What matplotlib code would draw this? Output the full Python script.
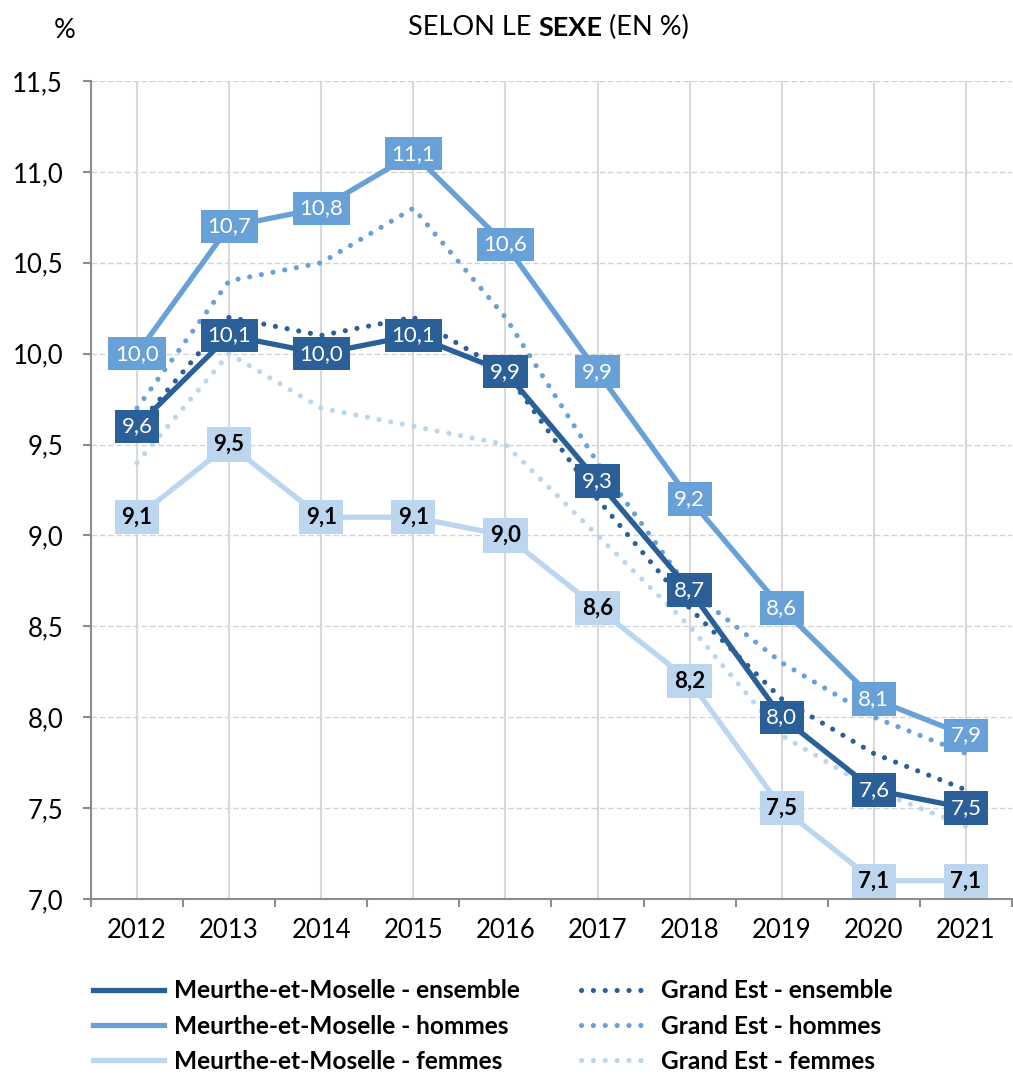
import matplotlib
matplotlib.use("Agg")
from matplotlib import pyplot as plt

annees = ['2012', '2013', '2014', '2015', '2016', '2017', '2018', '2019', '2020', '2021']

mm_ensemble = [9.6, 10.1, 10.0, 10.1, 9.9, 9.3, 8.7, 8.0, 7.6, 7.5]
mm_hommes = [10.0, 10.7, 10.8, 11.1, 10.6, 9.9, 9.2, 8.6, 8.1, 7.9]
mm_femmes = [9.1, 9.5, 9.1, 9.1, 9.0, 8.6, 8.2, 7.5, 7.1, 7.1]

ge_ensemble = [9.6, 10.2, 10.1, 10.2, 9.9, 9.2, 8.6, 8.1, 7.8, 7.6]
ge_hommes = [9.7, 10.4, 10.5, 10.8, 10.2, 9.4, 8.7, 8.3, 8.0, 7.8]
ge_femmes = [9.4, 10.0, 9.7, 9.6, 9.5, 9.0, 8.5, 7.9, 7.6, 7.4]

c_fonce = '#2b5f97'
c_moyen = '#68a1d7'
c_clair = '#bcd6ef'

plt.rcParams['font.family'] = ['Lato', 'DejaVu Sans']

fig = plt.figure(figsize=(10.13, 10.74), dpi=100)
ax = fig.add_axes([0.0898, 0.163, 0.9092, 0.7616])

x = list(range(len(annees)))

# lignes Grand Est en pointillés
pointille = dict(linestyle=(0, (0.01, 2.3)), linewidth=3.7, dash_capstyle='round')
l_ge_ens, = ax.plot(x, ge_ensemble, color=c_fonce, zorder=4, **pointille)
l_ge_hom, = ax.plot(x, ge_hommes, color=c_moyen, zorder=3, **pointille)
l_ge_fem, = ax.plot(x, ge_femmes, color=c_clair, zorder=2, **pointille)

# lignes Meurthe-et-Moselle
l_mm_ens, = ax.plot(x, mm_ensemble, color=c_fonce, linewidth=3.8, zorder=3.5)
l_mm_hom, = ax.plot(x, mm_hommes, color=c_moyen, linewidth=3.8, zorder=3.2)
l_mm_fem, = ax.plot(x, mm_femmes, color=c_clair, linewidth=3.8, zorder=2.5)

# étiquettes de valeurs
for serie, coul, txt in [(mm_femmes, c_clair, 'black'),
                         (mm_hommes, c_moyen, 'white'),
                         (mm_ensemble, c_fonce, 'white')]:
    for i, v in zip(x, serie):
        ax.text(i, v, '{:.1f}'.format(v).replace('.', ','), ha='center', va='center',
                fontsize=16, fontweight='bold' if txt == 'black' else 'normal', color=txt, zorder=6,
                bbox=dict(boxstyle='square,pad=0.3', fc=coul, ec='none'))

ax.set_xlim(-0.5, 9.5)
ax.set_ylim(7.0, 11.5)
ax.set_yticks([7.0, 7.5, 8.0, 8.5, 9.0, 9.5, 10.0, 10.5, 11.0, 11.5])
ax.set_yticklabels(['7,0', '7,5', '8,0', '8,5', '9,0', '9,5', '10,0', '10,5', '11,0', '11,5'],
                   fontsize=18.5)
ax.set_xticks(x)
ax.set_xticklabels(annees, fontsize=18.5)
ax.set_xticks([i + 0.5 for i in range(-1, 10)], minor=True)

ax.grid(axis='y', color='#d4d4d4', linestyle=(0, (4, 2)), linewidth=1)
ax.grid(axis='x', which='major', color='#d9d9d9', linestyle='-', linewidth=1.5)
ax.set_axisbelow(True)

for s in ['top', 'right']:
    ax.spines[s].set_visible(False)
ax.spines['left'].set_color('#8c8c8c')
ax.spines['bottom'].set_color('#8c8c8c')
ax.spines['left'].set_linewidth(1.5)
ax.spines['bottom'].set_linewidth(1.5)
ax.tick_params(axis='x', which='major', length=0, pad=14)
ax.tick_params(axis='x', which='minor', length=6, color='#8c8c8c', width=1.5)
ax.tick_params(axis='y', length=6, color='#8c8c8c', width=1.5, pad=14)

# titre avec un mot en gras
rend = fig.canvas.get_renderer()
morceaux = [('SELON LE ', 'normal'), ('SEXE', 'bold'), (' (EN %)', 'normal')]
textes = [fig.text(0, 0.974, m, fontsize=19.5, fontweight=w, va='center') for m, w in morceaux]
larg = [t.get_window_extent(rend).width / fig.bbox.width for t in textes]
pos = 0.5415 - sum(larg) / 2
for t, l in zip(textes, larg):
    t.set_x(pos)
    pos += l
fig.text(0.064, 0.972, '%', fontsize=19.5, ha='center', va='center')

poignees = [l_mm_ens, l_mm_hom, l_mm_fem, l_ge_ens, l_ge_hom, l_ge_fem]
noms = ['Meurthe-et-Moselle - ensemble', 'Meurthe-et-Moselle - hommes',
        'Meurthe-et-Moselle - femmes', 'Grand Est - ensemble',
        'Grand Est - hommes', 'Grand Est - femmes']
fig.legend(poignees, noms, ncol=2, loc='upper left', bbox_to_anchor=(0.075, 0.104),
           frameon=False, prop={'size': 17.6, 'weight': 'bold'}, handlelength=2.9,
           handletextpad=0.4, columnspacing=2.5, labelspacing=0.5, borderpad=0.2)

fig.savefig('out.png', dpi=100)
